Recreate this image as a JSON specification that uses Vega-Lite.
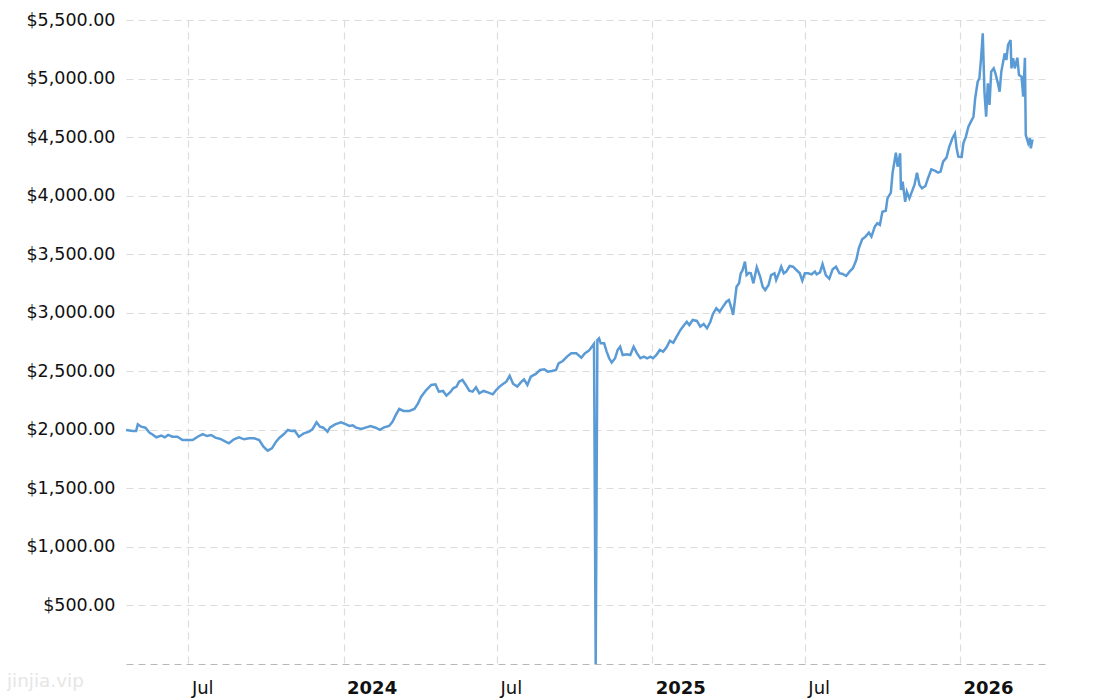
{
  "$schema": "https://vega.github.io/schema/vega-lite/v6.json",
  "width": 920,
  "height": 644,
  "autosize": {"type": "none"},
  "padding": {"left": 126, "top": 20, "right": 64, "bottom": 36},
  "background": "white",
  "title": {"text": "jinjia.vip", "orient": "bottom", "anchor": "start", "frame": "group", "dx": -119, "offset": -25, "fontSize": 18.4, "font": "DejaVu Sans", "fontWeight": "normal", "color": "#e6e6e6"},
  "data": {"values": [
    {"date": "2023-04-18", "price": 1998}, {"date": "2023-04-26", "price": 1990}, {"date": "2023-04-30", "price": 1990}, {"date": "2023-05-02", "price": 2047}, {"date": "2023-05-06", "price": 2027}, {"date": "2023-05-11", "price": 2018}, {"date": "2023-05-16", "price": 1975}, {"date": "2023-05-19", "price": 1962}, {"date": "2023-05-24", "price": 1936}, {"date": "2023-05-30", "price": 1950}, {"date": "2023-06-03", "price": 1936}, {"date": "2023-06-07", "price": 1956}, {"date": "2023-06-12", "price": 1941}, {"date": "2023-06-18", "price": 1941}, {"date": "2023-06-24", "price": 1913}, {"date": "2023-06-30", "price": 1913},
    {"date": "2023-07-06", "price": 1913}, {"date": "2023-07-12", "price": 1941}, {"date": "2023-07-18", "price": 1964}, {"date": "2023-07-23", "price": 1947}, {"date": "2023-07-28", "price": 1956}, {"date": "2023-08-02", "price": 1933}, {"date": "2023-08-08", "price": 1922}, {"date": "2023-08-14", "price": 1899}, {"date": "2023-08-18", "price": 1885}, {"date": "2023-08-24", "price": 1919}, {"date": "2023-08-30", "price": 1936}, {"date": "2023-09-05", "price": 1919}, {"date": "2023-09-11", "price": 1927}, {"date": "2023-09-17", "price": 1927}, {"date": "2023-09-23", "price": 1913}, {"date": "2023-09-28", "price": 1856}, {"date": "2023-10-03", "price": 1822}, {"date": "2023-10-08", "price": 1842}, {"date": "2023-10-13", "price": 1899}, {"date": "2023-10-17", "price": 1933}, {"date": "2023-10-22", "price": 1962}, {"date": "2023-10-27", "price": 1999}, {"date": "2023-10-31", "price": 1990}, {"date": "2023-11-04", "price": 1993}, {"date": "2023-11-09", "price": 1941}, {"date": "2023-11-15", "price": 1970}, {"date": "2023-11-21", "price": 1985}, {"date": "2023-11-25", "price": 2004}, {"date": "2023-11-30", "price": 2064}, {"date": "2023-12-04", "price": 2027}, {"date": "2023-12-08", "price": 2018}, {"date": "2023-12-13", "price": 1984}, {"date": "2023-12-16", "price": 2020}, {"date": "2023-12-22", "price": 2047}, {"date": "2023-12-29", "price": 2064},
    {"date": "2024-01-04", "price": 2047}, {"date": "2024-01-08", "price": 2033}, {"date": "2024-01-12", "price": 2038}, {"date": "2024-01-16", "price": 2018}, {"date": "2024-01-22", "price": 2007}, {"date": "2024-01-28", "price": 2021}, {"date": "2024-02-02", "price": 2033}, {"date": "2024-02-08", "price": 2018}, {"date": "2024-02-13", "price": 1999}, {"date": "2024-02-18", "price": 2021}, {"date": "2024-02-24", "price": 2033}, {"date": "2024-02-28", "price": 2069}, {"date": "2024-03-03", "price": 2127}, {"date": "2024-03-07", "price": 2178}, {"date": "2024-03-12", "price": 2161}, {"date": "2024-03-19", "price": 2161}, {"date": "2024-03-25", "price": 2178}, {"date": "2024-03-29", "price": 2221}, {"date": "2024-04-02", "price": 2283}, {"date": "2024-04-08", "price": 2340}, {"date": "2024-04-14", "price": 2383}, {"date": "2024-04-19", "price": 2389}, {"date": "2024-04-23", "price": 2326}, {"date": "2024-04-28", "price": 2332}, {"date": "2024-05-02", "price": 2292}, {"date": "2024-05-07", "price": 2326}, {"date": "2024-05-10", "price": 2355}, {"date": "2024-05-14", "price": 2369}, {"date": "2024-05-17", "price": 2411}, {"date": "2024-05-21", "price": 2426}, {"date": "2024-05-25", "price": 2383}, {"date": "2024-05-29", "price": 2334}, {"date": "2024-06-02", "price": 2326}, {"date": "2024-06-06", "price": 2363}, {"date": "2024-06-10", "price": 2312}, {"date": "2024-06-15", "price": 2332}, {"date": "2024-06-20", "price": 2320}, {"date": "2024-06-26", "price": 2303}, {"date": "2024-06-30", "price": 2340},
    {"date": "2024-07-04", "price": 2369}, {"date": "2024-07-08", "price": 2391}, {"date": "2024-07-12", "price": 2411}, {"date": "2024-07-16", "price": 2461}, {"date": "2024-07-20", "price": 2394}, {"date": "2024-07-25", "price": 2369}, {"date": "2024-07-30", "price": 2411}, {"date": "2024-08-02", "price": 2431}, {"date": "2024-08-06", "price": 2383}, {"date": "2024-08-10", "price": 2454}, {"date": "2024-08-16", "price": 2477}, {"date": "2024-08-21", "price": 2511}, {"date": "2024-08-26", "price": 2517}, {"date": "2024-08-30", "price": 2497}, {"date": "2024-09-04", "price": 2503}, {"date": "2024-09-09", "price": 2511}, {"date": "2024-09-12", "price": 2568}, {"date": "2024-09-17", "price": 2588}, {"date": "2024-09-22", "price": 2625}, {"date": "2024-09-27", "price": 2653}, {"date": "2024-10-03", "price": 2653}, {"date": "2024-10-09", "price": 2616}, {"date": "2024-10-13", "price": 2653}, {"date": "2024-10-18", "price": 2676}, {"date": "2024-10-21", "price": 2705}, {"date": "2024-10-24", "price": 2735}, {"date": "2024-10-26", "price": 0}, {"date": "2024-10-28", "price": 2767}, {"date": "2024-10-30", "price": 2782}, {"date": "2024-11-01", "price": 2739}, {"date": "2024-11-05", "price": 2739}, {"date": "2024-11-08", "price": 2668}, {"date": "2024-11-11", "price": 2611}, {"date": "2024-11-14", "price": 2574}, {"date": "2024-11-18", "price": 2611}, {"date": "2024-11-21", "price": 2682}, {"date": "2024-11-24", "price": 2710}, {"date": "2024-11-27", "price": 2639}, {"date": "2024-12-02", "price": 2645}, {"date": "2024-12-06", "price": 2639}, {"date": "2024-12-10", "price": 2710}, {"date": "2024-12-14", "price": 2653}, {"date": "2024-12-18", "price": 2611}, {"date": "2024-12-22", "price": 2625}, {"date": "2024-12-26", "price": 2611}, {"date": "2024-12-30", "price": 2625},
    {"date": "2025-01-02", "price": 2611}, {"date": "2025-01-06", "price": 2639}, {"date": "2025-01-10", "price": 2682}, {"date": "2025-01-14", "price": 2668}, {"date": "2025-01-18", "price": 2704}, {"date": "2025-01-22", "price": 2761}, {"date": "2025-01-26", "price": 2744}, {"date": "2025-01-30", "price": 2796}, {"date": "2025-02-03", "price": 2847}, {"date": "2025-02-07", "price": 2887}, {"date": "2025-02-11", "price": 2923}, {"date": "2025-02-14", "price": 2895}, {"date": "2025-02-18", "price": 2938}, {"date": "2025-02-23", "price": 2930}, {"date": "2025-02-27", "price": 2881}, {"date": "2025-03-03", "price": 2904}, {"date": "2025-03-07", "price": 2867}, {"date": "2025-03-11", "price": 2923}, {"date": "2025-03-14", "price": 2990}, {"date": "2025-03-18", "price": 3038}, {"date": "2025-03-22", "price": 3009}, {"date": "2025-03-26", "price": 3052}, {"date": "2025-03-30", "price": 3094}, {"date": "2025-04-02", "price": 3109}, {"date": "2025-04-05", "price": 3038}, {"date": "2025-04-07", "price": 2981}, {"date": "2025-04-11", "price": 3222}, {"date": "2025-04-14", "price": 3251}, {"date": "2025-04-16", "price": 3337}, {"date": "2025-04-18", "price": 3359}, {"date": "2025-04-21", "price": 3436}, {"date": "2025-04-23", "price": 3322}, {"date": "2025-04-26", "price": 3341}, {"date": "2025-04-28", "price": 3337}, {"date": "2025-05-01", "price": 3251}, {"date": "2025-05-05", "price": 3388}, {"date": "2025-05-09", "price": 3308}, {"date": "2025-05-12", "price": 3222}, {"date": "2025-05-15", "price": 3194}, {"date": "2025-05-19", "price": 3237}, {"date": "2025-05-22", "price": 3322}, {"date": "2025-05-26", "price": 3337}, {"date": "2025-05-28", "price": 3280}, {"date": "2025-06-01", "price": 3351}, {"date": "2025-06-03", "price": 3393}, {"date": "2025-06-06", "price": 3337}, {"date": "2025-06-09", "price": 3351}, {"date": "2025-06-13", "price": 3399}, {"date": "2025-06-17", "price": 3393}, {"date": "2025-06-21", "price": 3365}, {"date": "2025-06-25", "price": 3337}, {"date": "2025-06-28", "price": 3274},
    {"date": "2025-07-01", "price": 3337}, {"date": "2025-07-05", "price": 3337}, {"date": "2025-07-09", "price": 3328}, {"date": "2025-07-13", "price": 3351}, {"date": "2025-07-15", "price": 3328}, {"date": "2025-07-19", "price": 3345}, {"date": "2025-07-22", "price": 3416}, {"date": "2025-07-26", "price": 3320}, {"date": "2025-07-30", "price": 3290}, {"date": "2025-08-03", "price": 3371}, {"date": "2025-08-07", "price": 3393}, {"date": "2025-08-11", "price": 3337}, {"date": "2025-08-15", "price": 3331}, {"date": "2025-08-19", "price": 3314}, {"date": "2025-08-23", "price": 3351}, {"date": "2025-08-27", "price": 3380}, {"date": "2025-08-31", "price": 3450}, {"date": "2025-09-03", "price": 3550}, {"date": "2025-09-07", "price": 3627}, {"date": "2025-09-11", "price": 3650}, {"date": "2025-09-15", "price": 3684}, {"date": "2025-09-18", "price": 3650}, {"date": "2025-09-22", "price": 3735}, {"date": "2025-09-25", "price": 3764}, {"date": "2025-09-28", "price": 3750}, {"date": "2025-10-01", "price": 3863}, {"date": "2025-10-05", "price": 3871}, {"date": "2025-10-07", "price": 3977}, {"date": "2025-10-11", "price": 4025}, {"date": "2025-10-13", "price": 4191}, {"date": "2025-10-17", "price": 4367}, {"date": "2025-10-19", "price": 4247}, {"date": "2025-10-22", "price": 4361}, {"date": "2025-10-23", "price": 4048}, {"date": "2025-10-25", "price": 4119}, {"date": "2025-10-28", "price": 3948}, {"date": "2025-10-30", "price": 4034}, {"date": "2025-11-02", "price": 3977}, {"date": "2025-11-05", "price": 4034}, {"date": "2025-11-08", "price": 4091}, {"date": "2025-11-11", "price": 4196}, {"date": "2025-11-14", "price": 4091}, {"date": "2025-11-17", "price": 4063}, {"date": "2025-11-21", "price": 4082}, {"date": "2025-11-24", "price": 4148}, {"date": "2025-11-28", "price": 4225}, {"date": "2025-12-02", "price": 4213}, {"date": "2025-12-06", "price": 4196}, {"date": "2025-12-09", "price": 4205}, {"date": "2025-12-12", "price": 4290}, {"date": "2025-12-16", "price": 4325}, {"date": "2025-12-19", "price": 4410}, {"date": "2025-12-23", "price": 4490}, {"date": "2025-12-26", "price": 4530}, {"date": "2025-12-28", "price": 4404}, {"date": "2025-12-30", "price": 4333},
    {"date": "2026-01-03", "price": 4330}, {"date": "2026-01-05", "price": 4447}, {"date": "2026-01-08", "price": 4504}, {"date": "2026-01-11", "price": 4589}, {"date": "2026-01-14", "price": 4632}, {"date": "2026-01-17", "price": 4674}, {"date": "2026-01-19", "price": 4831}, {"date": "2026-01-22", "price": 4973}, {"date": "2026-01-24", "price": 5002}, {"date": "2026-01-26", "price": 5173}, {"date": "2026-01-28", "price": 5386}, {"date": "2026-01-30", "price": 4888}, {"date": "2026-02-01", "price": 4674}, {"date": "2026-02-03", "price": 4959}, {"date": "2026-02-05", "price": 4774}, {"date": "2026-02-07", "price": 5059}, {"date": "2026-02-10", "price": 5087}, {"date": "2026-02-12", "price": 5045}, {"date": "2026-02-15", "price": 4959}, {"date": "2026-02-17", "price": 4888}, {"date": "2026-02-19", "price": 5059}, {"date": "2026-02-22", "price": 5173}, {"date": "2026-02-23", "price": 5215}, {"date": "2026-02-25", "price": 5158}, {"date": "2026-02-27", "price": 5287}, {"date": "2026-03-02", "price": 5329}, {"date": "2026-03-03", "price": 5087}, {"date": "2026-03-05", "price": 5173}, {"date": "2026-03-07", "price": 5087}, {"date": "2026-03-10", "price": 5178}, {"date": "2026-03-12", "price": 5030}, {"date": "2026-03-15", "price": 5016}, {"date": "2026-03-17", "price": 4845}, {"date": "2026-03-19", "price": 5178}, {"date": "2026-03-20", "price": 4518}, {"date": "2026-03-23", "price": 4447}, {"date": "2026-03-25", "price": 4490}, {"date": "2026-03-26", "price": 4404}, {"date": "2026-03-28", "price": 4480}
  ]},
  "mark": {"type": "line", "color": "#5b9bd5", "strokeWidth": 2.5, "clip": true},
  "encoding": {
    "x": {
      "field": "date", "type": "temporal",
      "scale": {"type": "utc", "domain": [1681776000000, 1776038400000]},
      "axis": {
        "title": null,
        "values": [1688169600000, 1704067200000, 1719792000000, 1735689600000, 1751328000000, 1767225600000],
        "labelExpr": "utcmonth(datum.value) == 0 ? utcFormat(datum.value, '%Y') : utcFormat(datum.value, '%b')",
        "labelFontWeight": {"condition": {"test": "utcmonth(datum.value) == 0", "value": "bold"}, "value": "normal"},
        "labelAlign": "left", "labelOffset": 3, "labelBaseline": "alphabetic", "labelPadding": 29,
        "labelFont": "DejaVu Sans", "labelFontSize": 18, "labelColor": "#111",
        "domain": false, "ticks": false, "tickSize": 0,
        "grid": true, "gridDash": [7, 5], "gridColor": "#dcdcdc", "gridWidth": 1.2
      }
    },
    "y": {
      "field": "price", "type": "quantitative",
      "scale": {"domain": [0, 5500], "nice": false},
      "axis": {
        "title": null,
        "values": [0, 500, 1000, 1500, 2000, 2500, 3000, 3500, 4000, 4500, 5000, 5500],
        "format": "$,.2f",
        "labelExpr": "datum.value == 0 ? '' : datum.label",
        "labelFont": "DejaVu Sans", "labelFontSize": 17.5, "labelColor": "#111", "labelPadding": 11,
        "domain": false, "ticks": false, "tickSize": 0,
        "grid": true, "gridDash": [7, 5], "gridWidth": 1.2,
        "gridColor": {"condition": {"test": "datum.value == 0", "value": "#b8b8b8"}, "value": "#dcdcdc"}
      }
    }
  },
  "config": {"view": {"stroke": null}}
}
